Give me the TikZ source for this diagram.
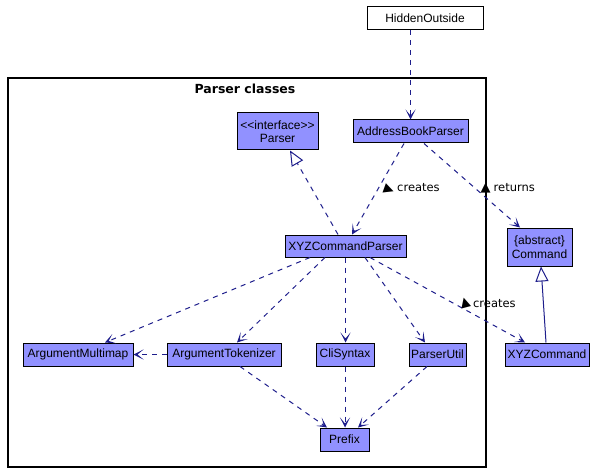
\documentclass[tikz,border=0pt]{standalone}
\usepackage{fontspec}
\usepackage{graphicx}
\setmainfont[Ligatures=NoCommon]{Liberation Sans}
\newfontfamily\dejavu{DejaVu Sans}
\newcommand\trisz{\fontsize{13}{13}\selectfont}
\usetikzlibrary{arrows.meta}
\definecolor{boxfill}{RGB}{145,145,255}
\definecolor{edgecol}{RGB}{30,30,140}
\begin{document}
\begin{tikzpicture}[x=1pt,y=-1pt,
  cls/.style={draw=black, fill=boxfill, line width=1pt, minimum height=23pt, inner sep=2pt,
    font=\fontsize{12}{13.5}\selectfont, align=center},
  dep/.style={draw=edgecol, line width=1pt, dash pattern=on 5pt off 5pt,
    -{Stealth[length=10pt,width=10pt,inset=6pt]}},
  real/.style={draw=edgecol, line width=1pt, dash pattern=on 5pt off 5pt,
    -{Triangle[open,length=15pt,width=13pt,fill=white]}},
  gen/.style={draw=edgecol, line width=1pt,
    -{Triangle[open,length=15pt,width=13pt,fill=white]}},
  lbl/.style={font=\dejavu\fontsize{11.5}{13}\selectfont, inner sep=0pt, text=black}]
\useasboundingbox (0,0) rectangle (596,473);
\fill[white] (0,0) rectangle (596,473);

% package frame
\node[draw=black, line width=1.3pt, minimum width=478pt, minimum height=389pt, inner sep=0pt] (pkg) at (247,272.5) {};
\node[font=\dejavu\bfseries\fontsize{12.5}{14}\selectfont, anchor=center] (pkgtitle) at (245,89) {Parser classes};

% nodes
\node[cls, fill=white, minimum width=116pt] (hidden) at (425,18.5) {HiddenOutside};
\node[cls, minimum width=81pt, minimum height=37pt] (parser) at (277.5,131.5) {\textless{}\textless{}interface\textgreater{}\textgreater{}\\Parser};
\node[cls, minimum width=115pt] (abp) at (410.5,131.5) {AddressBookParser};
\node[cls, minimum width=121pt, minimum height=22pt] (xyzp) at (345.5,246) {XYZCommandParser};
\node[cls, minimum width=65pt, minimum height=38pt] (cmd) at (539.5,247) {\{abstract\}\\Command};
\node[cls, minimum width=110pt] (am) at (78,354.5) {ArgumentMultimap};
\node[cls, minimum width=114pt] (at) at (224,354.5) {ArgumentTokenizer};
\node[cls, minimum width=58pt] (cli) at (345,354.5) {CliSyntax};
\node[cls, minimum width=57pt] (pu) at (437.5,354.5) {ParserUtil};
\node[cls, minimum width=84pt] (xyzc) at (547,354.5) {XYZCommand};
\node[cls, minimum width=49pt] (prefix) at (344.5,439.5) {Prefix};

% edges
\draw[dep] (hidden.south -| abp.north) -- (abp.north);
\draw[real] ([xshift=-7.5pt]xyzp.north) -- ([xshift=12.5pt]parser.south);
\draw[dep] ([xshift=-6.5pt]abp.south) -- ([xshift=6.5pt]xyzp.north)
  node[lbl, pos=0.5, anchor=west, xshift=4pt, yshift=-1pt] {\rotatebox{-20}{\trisz ▶}\,creates};
\draw[dep] ([xshift=13.5pt]abp.south) -- ([xshift=-19.5pt]cmd.north)
  node[lbl, pos=0.5, anchor=west, xshift=8pt, yshift=-3pt] {{\trisz ▲}\;returns};
\draw[gen] ([xshift=-1pt]xyzc.north) -- ([xshift=1.5pt]cmd.south);
\draw[dep] ([xshift=24.5pt]xyzp.south) -- ([xshift=-22pt]xyzc.north)
  node[lbl, pos=0.5, anchor=west, xshift=11pt, yshift=-3pt] {\rotatebox{15}{\trisz ▲}\,creates};
\draw[dep] ([xshift=-35.5pt]xyzp.south) -- ([xshift=27pt]am.north);
\draw[dep] ([xshift=-20.5pt]xyzp.south) -- ([xshift=13pt]at.north);
\draw[dep] (xyzp.south) -- (xyzp.south |- cli.north);
\draw[dep] ([xshift=19.5pt]xyzp.south) -- ([xshift=-12.5pt]pu.north);
\draw[dep] (at.west) -- (am.east);
\draw[dep] ([xshift=16pt]at.south) -- ([xshift=-17.5pt]prefix.north);
\draw[dep] (cli.south) -- (cli.south |- prefix.north);
\draw[dep] ([xshift=-10.5pt]pu.south) -- ([xshift=13.5pt]prefix.north);
\end{tikzpicture}
\end{document}
